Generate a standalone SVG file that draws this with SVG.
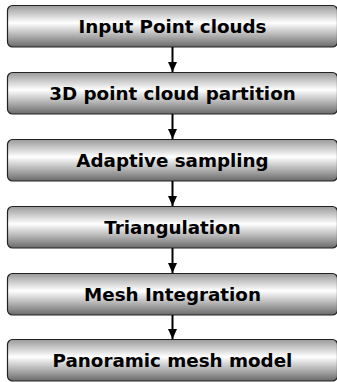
<svg xmlns="http://www.w3.org/2000/svg" width="337" height="382" viewBox="0 0 337 382">
<defs>
<linearGradient id="g" x1="0" y1="0" x2="0" y2="1">
<stop offset="0" stop-color="#9a9a9a"/>
<stop offset="0.42" stop-color="#ffffff"/>
<stop offset="1" stop-color="#6a6a6a"/>
</linearGradient>
<marker id="ah" markerWidth="10" markerHeight="9" refX="10" refY="4.5" orient="auto" markerUnits="userSpaceOnUse" viewBox="0 0 10 9">
<path d="M0,0 L10,4.5 L0,9 Z" fill="#000"/>
</marker>
</defs>
<style>
.box{fill:url(#g);stroke:#222;stroke-width:1.2}
.lbl{font-family:"DejaVu Sans",Verdana,sans-serif;font-weight:bold;font-size:18.3px;fill:#000;text-anchor:middle}
.con{stroke:#000;stroke-width:2;fill:none}
</style>
<g id="n1"><rect class="box" x="7.5" y="5.5" width="330" height="41.5" rx="5"/><text class="lbl" x="172.5" y="33">Input Point clouds</text></g>
<g id="n2"><rect class="box" x="7.5" y="72.5" width="330" height="41.5" rx="5"/><text class="lbl" x="172.5" y="100">3D point cloud partition</text></g>
<g id="n3"><rect class="box" x="7.5" y="139.5" width="330" height="41.5" rx="5"/><text class="lbl" x="172.5" y="167">Adaptive sampling</text></g>
<g id="n4"><rect class="box" x="7.5" y="206.5" width="330" height="41.5" rx="5"/><text class="lbl" x="172.5" y="234">Triangulation</text></g>
<g id="n5"><rect class="box" x="7.5" y="273.5" width="330" height="41.5" rx="5"/><text class="lbl" x="172.5" y="301">Mesh Integration</text></g>
<g id="n6"><rect class="box" x="7.5" y="339.5" width="330" height="41.5" rx="5"/><text class="lbl" x="172.5" y="367">Panoramic mesh model</text></g>
<g id="connectors">
<line class="con" x1="172.5" y1="47" x2="172.5" y2="72" marker-end="url(#ah)"/>
<line class="con" x1="172.5" y1="114" x2="172.5" y2="139" marker-end="url(#ah)"/>
<line class="con" x1="172.5" y1="181" x2="172.5" y2="206" marker-end="url(#ah)"/>
<line class="con" x1="172.5" y1="248" x2="172.5" y2="273" marker-end="url(#ah)"/>
<line class="con" x1="172.5" y1="315" x2="172.5" y2="339" marker-end="url(#ah)"/>
</g>
</svg>
